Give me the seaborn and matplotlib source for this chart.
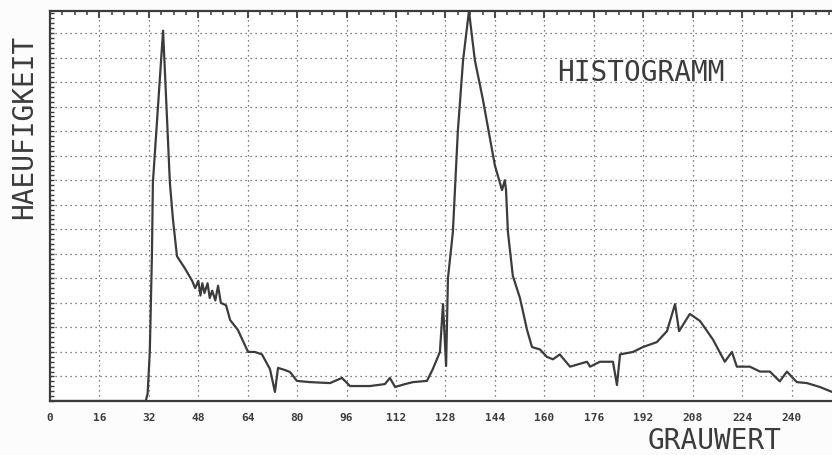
import numpy as np
import pandas as pd
import matplotlib
matplotlib.use("Agg")
import matplotlib.pyplot as plt
import seaborn as sns
from matplotlib.ticker import MultipleLocator

# Grey value (x) and relative frequency (y)
grauwert = [0, 31.0, 31.6, 32.3, 33.0, 33.3, 36.6, 38.8, 39.8, 41.1, 43.7, 46.0,
            47.0, 48.0, 48.7, 49.3, 50.0, 51.0, 51.7, 52.5, 53.5, 54.4, 55.3, 57.0,
            58.3, 60.8, 64.1, 66.3, 68.6, 71.2, 72.8, 73.8, 76.1, 77.7, 79.9, 84.1,
            90.6, 94.5, 97.1, 103.6, 108.4, 110.0, 111.7, 114.9, 117.5, 122.0, 123.9,
            126.2, 127.2, 128.2, 128.8, 130.4, 132.0, 133.7, 135.6, 137.5, 140.1,
            142.4, 144.0, 146.3, 147.2, 147.6, 148.2, 149.8, 152.1, 154.4, 156.0,
            158.6, 160.8, 162.8, 165.0, 168.3, 173.8, 174.8, 178.0, 182.2, 183.5,
            184.5, 188.7, 191.9, 196.4, 199.7, 202.3, 203.6, 207.1, 210.4, 214.6,
            218.4, 220.7, 222.3, 226.5, 229.8, 233.0, 236.2, 238.5, 241.7, 245.0,
            249.2, 253.1]
haeufigkeit = [0, 0, 0.3, 2.0, 6.0, 8.9, 15.1, 8.9, 7.4, 5.9, 5.4, 4.9,
               4.6, 4.9, 4.3, 4.8, 4.4, 4.8, 4.2, 4.5, 4.1, 4.7, 4.0, 3.9,
               3.3, 2.9, 2.0, 2.0, 1.9, 1.3, 0.37, 1.35, 1.26, 1.18, 0.82, 0.77,
               0.73, 0.94, 0.61, 0.61, 0.69, 0.94, 0.57, 0.69, 0.77, 0.82, 1.30,
               2.0, 3.95, 1.43, 5.0, 6.9, 11.0, 13.9, 15.9, 13.9, 12.3,
               10.7, 9.6, 8.6, 9.0, 8.6, 6.9, 5.1, 4.2, 2.9, 2.2,
               2.1, 1.8, 1.7, 1.9, 1.4, 1.6, 1.4, 1.6, 1.6, 0.65,
               1.9, 2.0, 2.2, 2.4, 2.85, 3.95, 2.85, 3.55, 3.26, 2.5,
               1.6, 2.0, 1.4, 1.4, 1.2, 1.2, 0.8, 1.2, 0.77, 0.73,
               0.57, 0.37]
x_ticks = [0, 16, 32, 48, 64, 80, 96, 112, 128, 144, 160, 176, 192, 208, 224, 240]
x_ticklabels = ["0", "16", "32", "48", "64", "80", "96", "112", "128", "144",
                "160", "176", "192", "208", "224", "240"]
title_text = "HISTOGRAMM"
x_label = "GRAUWERT"
y_label = "HAEUFIGKEIT"

df = pd.DataFrame({"x": grauwert, "y": haeufigkeit})

sns.set_style("white")
plt.rcParams["font.family"] = ["DejaVu Sans Mono", "DejaVu Sans"]

ink = "#3c3c3c"
fig = plt.figure(figsize=(8.32, 4.56), dpi=100, facecolor="#fcfcfc")
ax = fig.add_axes([50 / 832, 54 / 456, 782 / 832, 390 / 456])
ax.set_facecolor("white")

sns.lineplot(data=df, x="x", y="y", ax=ax, sort=False, estimator=None,
             color=ink, linewidth=1.6, clip_on=True)

ax.set_xlim(0, 253.1)
ax.set_ylim(0, 15.9)

# dotted grid
for gx in x_ticks[1:]:
    ax.axvline(gx, color="#555555", linewidth=0.9, linestyle=(0, (1, 3)), zorder=0)
for gy in range(1, 16):
    ax.axhline(gy, color="#555555", linewidth=0.9, linestyle=(0, (1, 3)), zorder=0)

ax.set_xticks(x_ticks)
ax.set_xticklabels(x_ticklabels, fontsize=8, fontweight="bold", color=ink)
ax.xaxis.set_minor_locator(MultipleLocator(4))
ax.set_yticks([])
ax.yaxis.set_minor_locator(MultipleLocator(0.2))
ax.tick_params(axis="x", which="major", direction="in", length=5, width=1.3,
               colors=ink, top=True, pad=8)
ax.tick_params(axis="x", which="minor", direction="in", length=3, width=1.1,
               colors=ink, top=True)
ax.tick_params(axis="y", which="minor", direction="in", length=3, width=1.0,
               colors=ink, left=True)
for lab in ax.get_xticklabels():
    lab.set_color(ink)

for side in ["top", "left", "bottom"]:
    ax.spines[side].set_color(ink)
    ax.spines[side].set_linewidth(1.6)
ax.spines["right"].set_visible(False)

ax.set_xlabel("")
ax.set_ylabel("")

fig.text(715 / 832, 1 - 441 / 456, x_label, fontsize=20, color=ink,
         ha="center", va="center")
fig.text(24 / 832, 1 - 127 / 456, y_label, fontsize=20, color=ink,
         ha="center", va="center", rotation=90)
fig.text(641 / 832, 1 - 73 / 456, title_text, fontsize=20, color=ink,
         ha="center", va="center")

fig.savefig("out.png", dpi=100, facecolor=fig.get_facecolor())
